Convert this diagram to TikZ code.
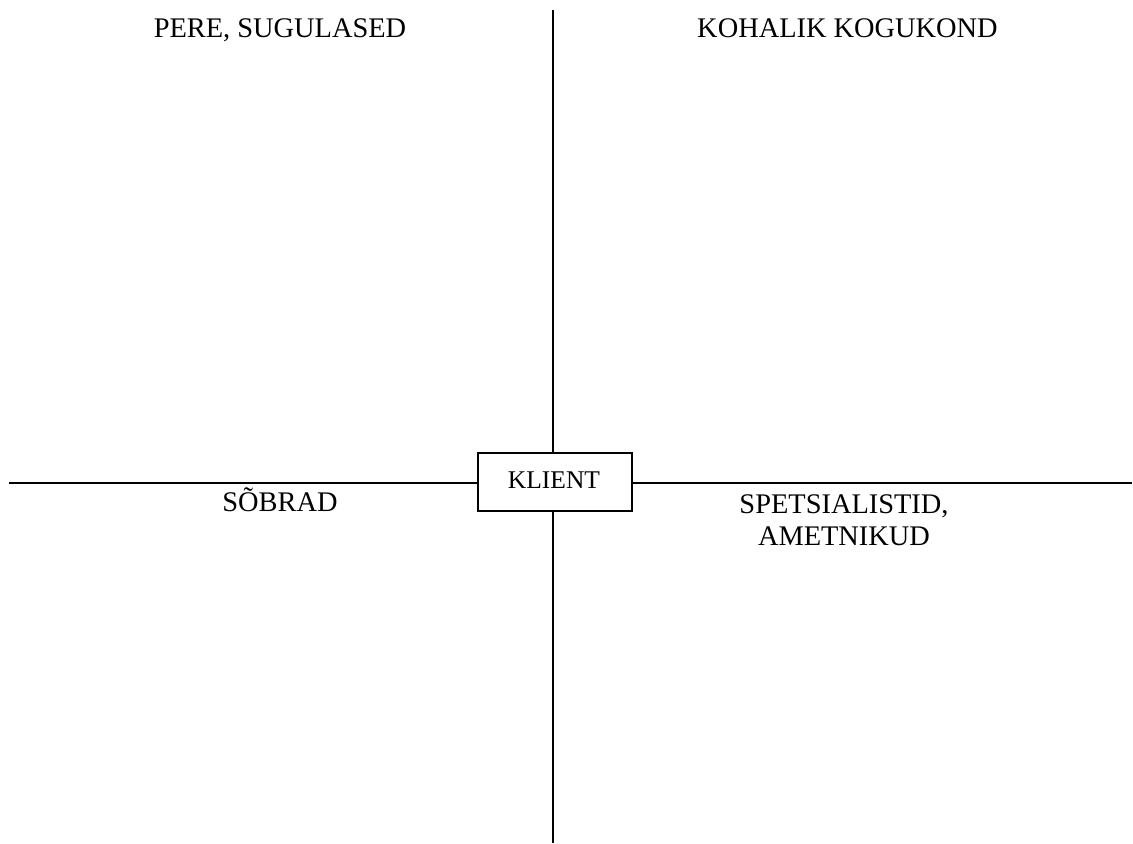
\documentclass[tikz,border=0pt]{standalone}
\usepackage{fontspec}
\setmainfont{Liberation Serif}
\usetikzlibrary{positioning}

\begin{document}
\begin{tikzpicture}[
  x=0.5pt, y=-0.5pt,
  axis/.style={line width=1pt},
  klientbox/.style={draw, line width=1pt, minimum width=77pt, minimum height=29pt, inner sep=0pt, font=\fontsize{12.75}{15}\selectfont},
  label/.style={anchor=base, align=center, inner sep=0pt, font=\fontsize{14.2}{16}\selectfont}
]
\useasboundingbox (0,0) rectangle (1133,843);
\node[klientbox] (klient) at (555,482) {};
\node[anchor=base, inner sep=0pt, font=\fontsize{12.75}{15}\selectfont] (ktext) at (554,488) {KLIENT};
\coordinate (top) at (553,10);
\coordinate (bottom) at (553,843);
\coordinate (left) at (9,483);
\coordinate (right) at (1132,483);
\draw[axis] (top) -- (top |- klient.north);
\draw[axis] (bottom |- klient.south) -- (bottom);
\draw[axis] (left) -- (left -| klient.west);
\draw[axis] (right -| klient.east) -- (right);
% quadrants
\node[label] (pere) at (280,37) {PERE, SUGULASED};
\node[label] (kogukond) at (847.5,37) {KOHALIK KOGUKOND};
\node[label] (sobrad) at (280,511) {SÕBRAD};
\node[label] (spets) at (844,545) {SPETSIALISTID,\\AMETNIKUD};
\end{tikzpicture}
\end{document}
